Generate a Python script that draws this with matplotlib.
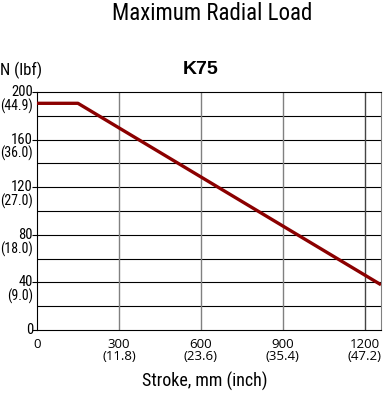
import matplotlib
matplotlib.use("Agg")
import matplotlib.pyplot as plt
from matplotlib import font_manager as fm
import matplotlib.transforms as mtrans

# find a narrow/condensed sans font if installed
cand = None
prefs = ["LiberationSansNarrow-Regular", "ArialNarrow", "RobotoCondensed-Regular",
         "DejaVuSansCondensed.ttf", "OpenSans_Condensed-Regular", "OpenSansCondensed"]
files = [f.fname for f in fm.fontManager.ttflist]
for p in prefs:
    for fn in files:
        if p.lower() in fn.lower().replace(" ", ""):
            cand = fn
            break
    if cand:
        break
if cand is None:
    for fn in files:
        low = fn.lower()
        if ("narrow" in low or "condensed" in low) and "bold" not in low and "oblique" not in low and "italic" not in low:
            cand = fn
            break

def nfont(size):
    if cand:
        return fm.FontProperties(fname=cand, size=size)
    return fm.FontProperties(family="Liberation Sans", size=size * 0.8)

# Data
stroke_mm = [0, 150, 1260]
load_n = [190.5, 190.5, 38]
x_ticks = [0, 300, 600, 900, 1200]
x_tick_labels = ["0", "300\n(11.8)", "600\n(23.6)", "900\n(35.4)", "1200\n(47.2)"]
y_ticks = [0, 40, 80, 120, 160, 200]
y_tick_n = ["0", "40", "80", "120", "160", "200"]
y_tick_lbf = ["", "(9.0)", "(18.0)", "(27.0)", "(36.0)", "(44.9)"]

fig = plt.figure(figsize=(3.83, 3.98), dpi=100)
ax = fig.add_axes([37/383, 68/398, 344/383, 238/398])
ax.set_xlim(0, 1260)
ax.set_ylim(0, 200)

for y in range(20, 200, 20):
    ax.axhline(y, color="black", lw=0.8, zorder=1)
for x in [300, 600, 900]:
    ax.axvline(x, color="#808080", lw=1.0, zorder=1)
ax.axvline(1200, color="#444444", lw=1.0, zorder=1)

ax.plot(stroke_mm, load_n, color="#8B0000", lw=2.4, zorder=3, solid_capstyle="butt")

for s in ["left", "bottom", "top"]:
    ax.spines[s].set_color("black")
    ax.spines[s].set_linewidth(0.8)
ax.spines["right"].set_color("#808080")

ax.set_xticks(x_ticks)
ax.set_xticklabels(x_tick_labels, fontfamily="Open Sans", fontsize=9.5, linespacing=0.95)
ax.tick_params(axis="x", length=0, pad=5.5)

ax.set_yticks(y_ticks)
ax.set_yticklabels([])
ax.tick_params(axis="y", length=3.5, width=0.8, pad=1)
tr = mtrans.blended_transform_factory(fig.transFigure, ax.transData)
for y, n, l in zip(y_ticks, y_tick_n, y_tick_lbf):
    ax.text(33/383, y, n, transform=tr, ha="right", va="center", fontproperties=nfont(10.5))
    if l:
        ax.text(33/383, y - 11.8, l, transform=tr, ha="right", va="center", fontproperties=nfont(10))

fig.text(212/383, 1 - 14/398, "Maximum Radial Load", ha="center", va="center",
         fontproperties=nfont(16.5))
fig.text(201/383, 1 - 70/398, "K75", ha="center", va="center",
         fontfamily="Liberation Sans", fontweight="bold", fontsize=14)
fig.text(0, 1 - 70/398, "N (lbf)", ha="left", va="center", fontproperties=nfont(12))
fig.text(205/383, 1 - 381/398, "Stroke, mm (inch)", ha="center", va="center",
         fontproperties=nfont(13))

fig.savefig("out.png", dpi=100)
